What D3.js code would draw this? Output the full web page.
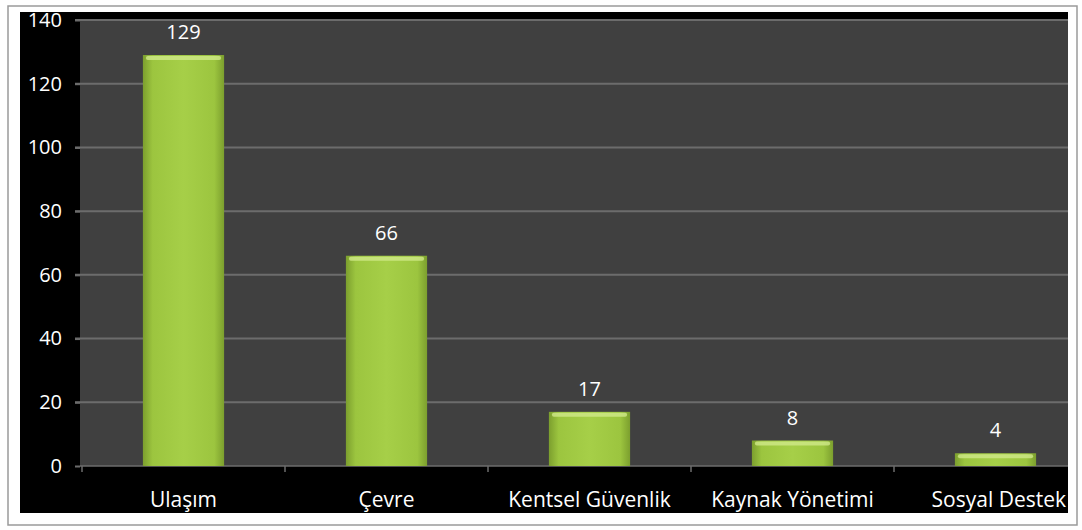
<!DOCTYPE html>
<html>
<head>
<meta charset="utf-8">
<script src="https://cdn.jsdelivr.net/npm/d3@7"></script>
<style>
  body { margin: 0; background: #fff; }
  text { font-family: "Open Sans", sans-serif; fill: #fff; }
</style>
</head>
<body>
<div class="chart"></div>
<script>
// data
const categories = ["Ulaşım", "Çevre", "Kentsel Güvenlik", "Kaynak Yönetimi", "Sosyal Destek"];
const counts = [129, 66, 17, 8, 4];
const yTicks = [0, 20, 40, 60, 80, 100, 120, 140];

const outWidth = 1082, outHeight = 530;
let plot = {left: 80, right: 1068, top: 20, bottom: 466};

const svg = d3.select(".chart").append("svg")
	.attr("width", outWidth)
	.attr("height", outHeight);

// bar gradient
const defs = svg.append("defs");
const grad = defs.append("linearGradient").attr("id", "barGrad")
	.attr("x1", 0).attr("x2", 1).attr("y1", 0).attr("y2", 0);
grad.append("stop").attr("offset", "0%").attr("stop-color", "#7c9f2e");
grad.append("stop").attr("offset", "12%").attr("stop-color", "#9cc53f");
grad.append("stop").attr("offset", "50%").attr("stop-color", "#a6cf48");
grad.append("stop").attr("offset", "88%").attr("stop-color", "#9cc53f");
grad.append("stop").attr("offset", "100%").attr("stop-color", "#7c9f2e");

// outer frame
svg.append("rect")
	.attr("x", 8).attr("y", 6)
	.attr("width", 1069).attr("height", 519)
	.attr("fill", "#fff")
	.attr("stroke", "#9a9a9a")
	.attr("stroke-width", 1.5);

// black chart area
svg.append("rect")
	.attr("x", 20).attr("y", 12)
	.attr("width", 1048).attr("height", 501)
	.attr("fill", "#000");

// plot area
svg.append("rect")
	.attr("x", plot.left).attr("y", plot.top)
	.attr("width", plot.right - plot.left).attr("height", plot.bottom - plot.top)
	.attr("fill", "#404040");

const y = d3.scaleLinear()
	.domain([0, 140])
	.range([plot.bottom, plot.top]);

const x = d3.scaleBand()
	.domain(categories)
	.range([82, 1097])
	.paddingInner(0.6)
	.paddingOuter(0.3);

// gridlines
svg.append("g")
	.selectAll("line")
	.data(yTicks.filter(d => d > 0))
	.enter()
	.append("line")
	.attr("x1", plot.left - 5)
	.attr("x2", plot.right)
	.attr("y1", d => y(d))
	.attr("y2", d => y(d))
	.attr("stroke", "#6c6c6c")
	.attr("stroke-width", 2);

// y axis
const yAxis = d3.axisLeft(y)
	.tickValues(yTicks)
	.tickSize(5)
	.tickPadding(13);
const gy = svg.append("g")
	.attr("transform", `translate(${plot.left}, 0)`)
	.call(yAxis);
gy.select(".domain").remove();
gy.selectAll(".tick line").attr("stroke", "#6c6c6c").attr("stroke-width", 2);
gy.selectAll("text")
	.attr("fill", "#fff")
	.style("font-size", "20px");

// x axis
const step = x.step();
const gx = svg.append("g").attr("transform", `translate(0, ${plot.bottom})`);
gx.append("line")
	.attr("x1", plot.left).attr("x2", plot.right)
	.attr("y1", 0).attr("y2", 0)
	.attr("stroke", "#6c6c6c").attr("stroke-width", 1.5);
gx.selectAll(".xtick")
	.data(categories)
	.enter()
	.append("line")
	.attr("class", "xtick")
	.attr("x1", d => x(d) - step * x.paddingInner() / 2)
	.attr("x2", d => x(d) - step * x.paddingInner() / 2)
	.attr("y1", 0).attr("y2", 6)
	.attr("stroke", "#6c6c6c").attr("stroke-width", 1.5);
const last = categories.length - 1;
gx.selectAll(".xlabel")
	.data(categories)
	.enter()
	.append("text")
	.attr("class", "xlabel")
	.attr("x", (d, i) => i == last ? 1066 : x(d) + x.bandwidth() / 2)
	.attr("y", 41)
	.attr("text-anchor", (d, i) => i == last ? "end" : "middle")
	.style("font-size", "21px")
	.text(d => d);

// bars
svg.append("g")
	.selectAll("rect")
	.data(counts)
	.enter()
	.append("rect")
	.attr("x", (d, i) => x(categories[i]))
	.attr("y", d => y(d))
	.attr("width", x.bandwidth())
	.attr("height", d => plot.bottom - y(d))
	.attr("fill", "url(#barGrad)");

// top highlight on bars
svg.append("g")
	.selectAll("rect")
	.data(counts)
	.enter()
	.append("rect")
	.attr("x", (d, i) => x(categories[i]) + 3)
	.attr("y", d => y(d) + 1)
	.attr("width", x.bandwidth() - 6)
	.attr("height", 4)
	.attr("rx", 2)
	.attr("fill", "#cfe98a")
	.attr("opacity", 0.8);

// value labels
svg.append("g")
	.selectAll("text")
	.data(counts)
	.enter()
	.append("text")
	.attr("x", (d, i) => x(categories[i]) + x.bandwidth() / 2)
	.attr("y", d => y(d) - 16)
	.attr("text-anchor", "middle")
	.style("font-size", "20px")
	.text(d => d);
</script>
</body>
</html>
